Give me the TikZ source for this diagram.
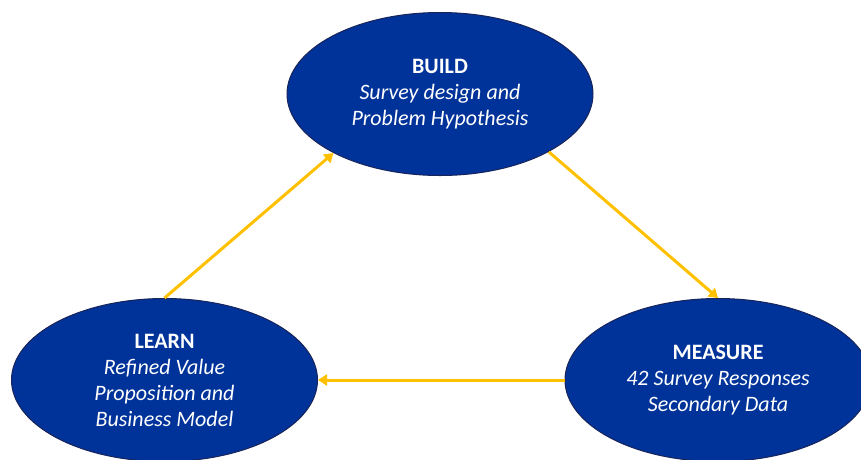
\documentclass[tikz,border=0pt]{standalone}
\usepackage{fontspec}
\setmainfont{Carlito}
\usetikzlibrary{shapes.geometric,arrows.meta}
\definecolor{stageblue}{RGB}{0,51,153}
\definecolor{stageedge}{RGB}{24,36,90}
\definecolor{flowgold}{RGB}{255,192,0}
\tikzset{
  stage/.style={ellipse, draw=stageedge, line width=1pt, fill=stageblue,
    text=white, inner sep=0pt, align=center,
    minimum width=306pt, minimum height=163pt,
    font=\fontsize{22pt}{26pt}\selectfont},
  flow/.style={draw=flowgold, line width=3pt,
    -{Triangle[length=9pt,width=11pt]}}
}
\begin{document}
\begin{tikzpicture}[x=1pt,y=-1pt]
  \useasboundingbox (0,0) rectangle (861,459);
  \begin{scope}
    \clip (0,0) rectangle (861,459);
    \node[stage] (build) at (440,94)
      {\textbf{BUILD}\\\textit{Survey design and}\\\textit{Problem Hypothesis}};
    \node[stage] (learn) at (164.5,380)
      {\textbf{LEARN}\\\textit{Refined Value}\\\textit{Proposition and}\\\textit{Business Model}};
    \node[stage] (measure) at (718,380)
      {\textbf{MEASURE}\\\textit{42 Survey Responses}\\\textit{Secondary Data}};
  \end{scope}
  \draw[flow] (learn.90) -- (build.209);
  \draw[flow] (build.332) -- (measure.90);
  \draw[flow] (measure.180) -- (learn.0);
\end{tikzpicture}
\end{document}
